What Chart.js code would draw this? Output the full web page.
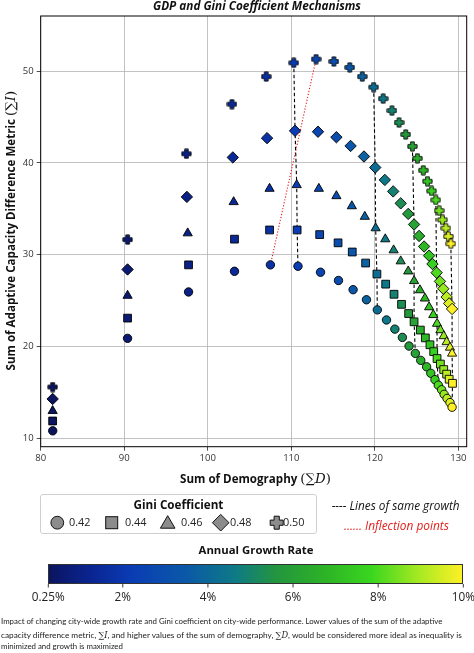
<!DOCTYPE html>
<html><head><meta charset="utf-8">
<script src="https://cdn.jsdelivr.net/npm/chart.js@4.4.1/dist/chart.umd.min.js"></script>
<style>
html,body{margin:0;padding:0;background:#fff;}
body{width:474px;height:653px;position:relative;overflow:hidden;font-family:'Open Sans',sans-serif;color:#111;}
.abs{position:absolute;white-space:nowrap;line-height:1;}
.m{font-family:'DejaVu Serif',serif;font-weight:normal;font-style:normal;}
</style></head><body>
<div style="position:absolute;left:0;top:0;width:474px;height:470px"><canvas id="c" width="474" height="470"></canvas></div>
<svg id="ov" width="474" height="653" style="position:absolute;left:0;top:0;pointer-events:none"></svg>
<script>
// ---------------- DATA ----------------
const growthRates = [0.25,0.64,1.03,1.42,1.81,2.20,2.59,2.98,3.37,3.76,4.15,4.54,4.93,5.32,5.71,6.10,6.49,6.88,7.27,7.66,8.05,8.44,8.83,9.22,9.61,10.00];
const giniLabels = ['0.42','0.44','0.46','0.48','0.50'];

const demography042 = [81.44,90.4,97.7,103.2,107.5,110.8,113.5,115.65,117.4,119.0,120.3,121.4,122.4,123.3,124.1,124.85,125.5,126.2,126.7,127.2,127.6,128.0,128.3,128.65,129.0,129.25];
const adaptive042   = [10.83,20.9,25.95,28.2,28.9,28.75,28.1,27.2,26.2,25.1,24.0,22.9,21.9,21.0,20.06,19.26,18.5,17.8,17.1,16.4,15.8,15.3,14.8,14.35,13.9,13.4];

const demography044 = [81.43,90.4,97.7,103.2,107.4,110.7,113.4,115.6,117.3,118.9,120.25,121.3,122.3,123.2,124.05,124.7,125.45,126.05,126.6,127.05,127.45,127.85,128.25,128.6,128.9,129.3];
const adaptive044   = [11.9,23.1,28.9,31.7,32.7,32.7,32.2,31.3,30.3,29.1,27.9,26.8,25.7,24.6,23.6,22.7,21.8,20.95,20.2,19.45,18.7,18.1,17.5,17.0,16.45,16.0];

const demography046 = [81.43,90.4,97.6,103.1,107.4,110.65,113.3,115.4,117.25,118.8,120.1,121.25,122.25,123.1,124.0,124.7,125.4,126.0,126.5,127.0,127.45,127.85,128.25,128.6,129.0,129.25];
const adaptive046   = [13.0,25.55,32.35,35.75,37.2,37.6,37.2,36.4,35.3,34.15,32.9,31.7,30.5,29.3,28.2,27.15,26.15,25.25,24.3,23.45,22.5,21.8,21.15,20.5,19.9,19.25];

const demography048 = [81.43,90.4,97.5,103.0,107.1,110.45,113.2,115.4,117.1,118.7,120.05,121.2,122.2,123.1,124.0,124.7,125.3,125.9,126.5,126.9,127.4,127.8,128.2,128.6,128.9,129.25];
const adaptive048   = [14.3,28.4,36.3,40.6,42.7,43.5,43.4,42.8,41.85,40.7,39.5,38.15,36.9,35.6,34.45,33.3,32.05,30.9,29.9,29.0,28.05,27.1,26.3,25.4,24.7,24.1];

const demography050 = [81.43,90.4,97.44,102.9,107.0,110.3,112.97,115.1,117.0,118.5,119.86,121.0,122.05,122.9,123.7,124.5,125.1,125.8,126.3,126.8,127.3,127.7,128.1,128.5,128.8,129.1];
const adaptive050   = [15.6,31.65,41.0,46.4,49.4,50.9,51.3,51.05,50.4,49.4,48.25,47.0,45.7,44.4,43.1,41.8,40.5,39.2,38.0,36.95,35.97,34.8,33.8,32.9,32.0,31.2];

const xTickValues = [80,90,100,110,120,130];
const yTickValues = [10,20,30,40,50];
const colorbarTicks = [0.25,2,4,6,8,10];
const colorbarTickLabels = ['0.25%','2%','4%','6%','8%','10%'];
const sameGrowthIdx = [5,10,15,20,25];
const inflectionLow = 4;   // index of max in Gini 0.42
const inflectionHigh = 6;  // index of max in Gini 0.50

// ---------------- COLORMAP ----------------
const cmapStops = [[0,'#0b1560'],[0.10,'#0a2490'],[0.20,'#0a3cb4'],[0.33,'#0b58a8'],[0.45,'#0e7a86'],[0.55,'#24953f'],[0.67,'#2db326'],[0.78,'#3ad61f'],[0.90,'#aaea22'],[1,'#fdf026']];
function hx(h){return [1,3,5].map(i=>parseInt(h.substr(i,2),16));}
function cmap(t){
  t=Math.max(0,Math.min(1,t));
  for(let i=1;i<cmapStops.length;i++){
    if(t<=cmapStops[i][0]){
      const a=cmapStops[i-1],b=cmapStops[i],f=(t-a[0])/(b[0]-a[0]);
      const ca=hx(a[1]),cb=hx(b[1]);
      return 'rgb('+ca.map((v,k)=>Math.round(v+(cb[k]-v)*f)).join(',')+')';
    }
  }
  return cmapStops[cmapStops.length-1][1];
}
const gMin=0.25,gMax=10;
const pointColors = growthRates.map(g=>cmap((g-gMin)/(gMax-gMin)));

// plus marker
const plusCache={};
function plusPath(g,cx,cy,a,e){
  g.beginPath();
  g.moveTo(cx-a,cy-e);g.lineTo(cx+a,cy-e);g.lineTo(cx+a,cy-a);g.lineTo(cx+e,cy-a);g.lineTo(cx+e,cy+a);
  g.lineTo(cx+a,cy+a);g.lineTo(cx+a,cy+e);g.lineTo(cx-a,cy+e);g.lineTo(cx-a,cy+a);g.lineTo(cx-e,cy+a);
  g.lineTo(cx-e,cy-a);g.lineTo(cx-a,cy-a);g.closePath();
}
function plusImg(color){
  if(plusCache[color])return plusCache[color];
  const s=11,c=document.createElement('canvas');c.width=s;c.height=s;
  const g=c.getContext('2d');
  plusPath(g,s/2,s/2,1.8,4.6);
  g.fillStyle=color;g.fill();g.lineWidth=0.9;g.strokeStyle='#000';g.stroke();
  plusCache[color]=c;return c;
}

const series=[
  {label:giniLabels[0],x:demography042,y:adaptive042,style:'circle',r:4.2},
  {label:giniLabels[1],x:demography044,y:adaptive044,style:'rect',r:5.5},
  {label:giniLabels[2],x:demography046,y:adaptive046,style:'triangle',r:5.3},
  {label:giniLabels[3],x:demography048,y:adaptive048,style:'rectRot',r:5.7},
  {label:giniLabels[4],x:demography050,y:adaptive050,style:'plus',r:5.5}
];

const datasets=[];
sameGrowthIdx.forEach(i=>{
  datasets.push({type:'line',label:'same growth',data:[4,3,2,1,0].map(k=>({x:series[k].x[i],y:series[k].y[i]})),
    borderColor:'#000',borderWidth:1.1,borderDash:[3.5,2.5],pointRadius:0,fill:false,tension:0,order:20});
});
datasets.push({type:'line',label:'inflection',data:[{x:demography042[inflectionLow],y:adaptive042[inflectionLow]},{x:demography050[inflectionHigh],y:adaptive050[inflectionHigh]}],
  borderColor:'#e3201c',borderWidth:1.1,borderDash:[1.2,1.8],pointRadius:0,fill:false,order:20});
series.forEach((s,k)=>{
  datasets.push({type:'scatter',label:s.label,data:s.x.map((x,i)=>({x:x,y:s.y[i]})),
    pointStyle:s.style==='plus'?(ctx)=>plusImg(pointColors[ctx.dataIndex]):s.style,
    pointRadius:s.r,pointBackgroundColor:pointColors,pointBorderColor:'#000',pointBorderWidth:0.9,order:10-k});
});

const frame={id:'frame',afterDraw(ch){const a=ch.chartArea,c=ch.ctx;c.save();c.strokeStyle='#000';c.lineWidth=1;c.strokeRect(a.left,a.top,a.right-a.left,a.bottom-a.top);c.restore();}};

const tickFont={family:"'Open Sans',sans-serif",size:9.5};
new Chart(document.getElementById('c'),{
  data:{datasets},
  options:{responsive:false,animation:false,events:[],
    layout:{padding:{top:16,left:0,right:7.3,bottom:0}},
    plugins:{legend:{display:false},tooltip:{enabled:false},title:{display:false}},
    scales:{
      x:{type:'linear',min:80,max:131,
        afterBuildTicks:a=>{a.ticks=xTickValues.map(v=>({value:v}));},
        afterFit:a=>{a.height=470-446.7;},
        grid:{color:'#b4b4b4',lineWidth:0.8,tickLength:4,tickColor:'#222',tickWidth:0.8},
        border:{display:false},
        ticks:{font:tickFont,color:'#333',padding:2,maxRotation:0}},
      y:{type:'linear',min:9.1,max:56,
        afterBuildTicks:a=>{a.ticks=yTickValues.map(v=>({value:v}));},
        afterFit:a=>{a.width=40.7;},
        grid:{color:'#b4b4b4',lineWidth:0.8,tickLength:4,tickColor:'#222',tickWidth:0.8},
        border:{display:false},
        ticks:{font:tickFont,color:'#333',padding:3}}
    }},
  plugins:[frame]
});

// ---------------- HTML TEXT ----------------
function addText(html,o){
  const d=document.createElement('div');d.className='abs';d.innerHTML=html;
  d.style.fontSize=(o.size||11)+'px';
  if(o.weight)d.style.fontWeight=o.weight;
  if(o.style)d.style.fontStyle=o.style;
  if(o.color)d.style.color=o.color;
  if(o.family)d.style.fontFamily=o.family;
  d.style.left='0px';d.style.top='0px';
  document.body.appendChild(d);
  let r=d.getBoundingClientRect();
  if(o.w){const s=(o.size||11)*o.w/r.width;d.style.fontSize=s+'px';r=d.getBoundingClientRect();}
  const left=(o.left!==undefined)?o.left:o.cx-r.width/2;
  d.style.left=left+'px';d.style.top=(o.cy-r.height/2)+'px';
  if(o.rotate){d.style.transformOrigin='center center';d.style.transform='rotate('+o.rotate+'deg)';}
  return d;
}
const SANS="'Open Sans',sans-serif";
addText('GDP and Gini Coefficient Mechanisms',{cx:257,cy:5.5,w:208,weight:'bold',style:'italic',family:SANS});
const xt=addText('Sum of Demography <span class="m" style="font-size:1.15em">(∑<i>D</i>)</span>',{cx:255.5,cy:478.5,w:151,weight:'bold',family:SANS});
const xtSize=parseFloat(xt.style.fontSize);
addText('Sum of Adaptive Capacity Difference Metric <span class="m" style="font-size:1.15em">(∑<i>I</i>)</span>',{cx:10.5,cy:231,size:xtSize,weight:'bold',family:SANS,rotate:-90});

// legend box
const box=document.createElement('div');
box.style.cssText='position:absolute;left:40px;top:494px;width:275px;height:38px;border:1px solid #cfcfcf;border-radius:3px;';
document.body.appendChild(box);
addText('Gini Coefficient',{cx:178.5,cy:505,w:90,weight:'bold',family:SANS});
const legendTextLeft=[69,125,181,230,283];
let legSize=null;
giniLabels.forEach((l,i)=>{const d=addText(l,{left:legendTextLeft[i],cy:522.7,w:i===0?21.5:undefined,size:legSize||11,family:SANS,color:'#222'}); if(i===0)legSize=parseFloat(d.style.fontSize);});

const ov=document.getElementById('ov');
const NS='http://www.w3.org/2000/svg';
function sv(tag,attrs){const e=document.createElementNS(NS,tag);for(const k in attrs)e.setAttribute(k,attrs[k]);ov.appendChild(e);return e;}
const lg={fill:'#8c8c8c',stroke:'#111','stroke-width':1};
const ly=522.7;
sv('circle',Object.assign({cx:57.3,cy:ly,r:6.4},lg));
sv('rect',Object.assign({x:111.7-6,y:ly-6,width:12,height:12},lg));
sv('polygon',Object.assign({points:`${167.7},${ly-7} ${167.7+7.3},${ly+5.5} ${167.7-7.3},${ly+5.5}`},lg));
sv('polygon',Object.assign({points:`${220.7},${ly-8.3} ${220.7+8.3},${ly} ${220.7},${ly+8.3} ${220.7-8.3},${ly}`},lg));
(function(){const cx=276.7,cy=ly,a=2.6,e=6.5;
 const p=[[cx-a,cy-e],[cx+a,cy-e],[cx+a,cy-a],[cx+e,cy-a],[cx+e,cy+a],[cx+a,cy+a],[cx+a,cy+e],[cx-a,cy+e],[cx-a,cy+a],[cx-e,cy+a],[cx-e,cy-a],[cx-a,cy-a]];
 sv('polygon',Object.assign({points:p.map(q=>q.join(',')).join(' ')},lg));})();

addText('---- Lines of same growth',{left:331.7,cy:506,w:128,style:'italic',family:SANS,color:'#111'});
addText('...... Inflection points',{left:344,cy:525.7,w:105,style:'italic',family:SANS,color:'#e3201c'});

// colorbar
addText('Annual Growth Rate',{cx:256,cy:550,w:115,weight:'bold',family:SANS});
const cbL=48.3,cbT=564,cbW=415,cbH=20;
const cb=document.createElement('div');
cb.style.cssText=`position:absolute;left:${cbL}px;top:${cbT}px;width:${cbW}px;height:${cbH}px;box-sizing:border-box;border:1px solid #333;background:linear-gradient(to right,${cmapStops.map(s=>s[1]+' '+(s[0]*100)+'%').join(',')});`;
document.body.appendChild(cb);
let cbSize=null;
colorbarTicks.forEach((v,i)=>{
  const x=cbL+(v-gMin)/(gMax-gMin)*cbW;
  sv('line',{x1:x,y1:cbT+cbH,x2:x,y2:cbT+cbH+3.5,stroke:'#222','stroke-width':0.9});
  const d=addText(colorbarTickLabels[i],{cx:x,cy:597.3,w:i===0?33:undefined,size:cbSize||11,family:SANS,color:'#222'});
  if(i===0)cbSize=parseFloat(d.style.fontSize);
});

// caption
const CAP="'Lato','Liberation Sans',sans-serif";
const c1=addText('Impact of changing city-wide growth rate and Gini coefficient on city-wide performance. Lower values of the sum of the adaptive',{left:1,cy:622,w:442,family:CAP,color:'#222',size:8});
addText('capacity difference metric, <span class="m">∑<i>I</i></span>, and higher values of the sum of demography, <span class="m">∑<i>D</i></span>, would be considered more ideal as inequality is',{left:1,cy:634.7,w:462,family:CAP,color:'#222',size:8});
addText('minimized and growth is maximized',{left:1,cy:647,size:parseFloat(c1.style.fontSize),family:CAP,color:'#222'});
</script>
</body></html>
